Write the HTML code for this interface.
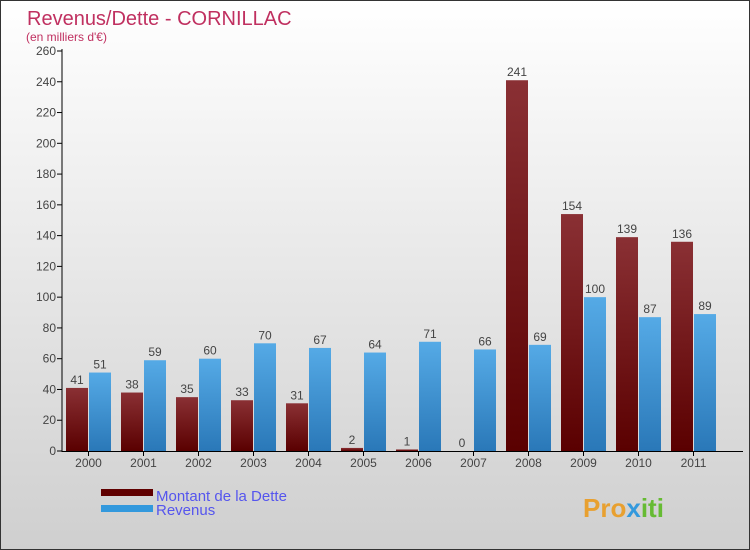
<!DOCTYPE html>
<html><head><meta charset="utf-8"><style>
body{margin:0}
#c{width:748px;height:548px;border:1px solid #333;background:linear-gradient(#ffffff,#cfcfcf);position:relative;overflow:hidden;font-family:"Liberation Sans",sans-serif}
</style></head><body>
<div id="c">
<svg width="748" height="548" id="svg">
<defs>
<linearGradient id="gd" x1="0" y1="0" x2="0" y2="1"><stop offset="0" stop-color="#8a3034"/><stop offset="1" stop-color="#5a0000"/></linearGradient>
<linearGradient id="gr" x1="0" y1="0" x2="0" y2="1"><stop offset="0" stop-color="#55aae6"/><stop offset="1" stop-color="#2a78b8"/></linearGradient>
</defs>
<text x="26" y="24" font-size="20" fill="#c03060">Revenus/Dette - CORNILLAC</text>
<text x="25" y="40" font-size="12" fill="#c03060">(en milliers d'€)</text>
<g id="plot"></g>
<rect x="100" y="488" width="52" height="7" fill="#600000"/>
<rect x="100" y="504" width="52" height="7" fill="#3399dd"/>
<text x="155" y="500" font-size="15" fill="#5555ee">Montant de la Dette</text>
<text x="155" y="514" font-size="15" fill="#5555ee">Revenus</text>
<text x="582" y="516" font-size="26" font-weight="bold" fill="#e8a030">Pro<tspan fill="#3399dd">x</tspan><tspan fill="#66bb33">iti</tspan></text>
</svg>
</div>
<script>
const categories=["2000","2001","2002","2003","2004","2005","2006","2007","2008","2009","2010","2011"];
const debt=[41,38,35,33,31,2,1,0,241,154,139,136];
const revenue=[51,59,60,70,67,64,71,66,69,100,87,89];
const ticks=[0,20,40,60,80,100,120,140,160,180,200,220,240,260];
const NS="http://www.w3.org/2000/svg";
const g=document.getElementById('plot');
const y=v=>450-v*400/260;
const gx=i=>62+i*55;
function mk(t,a){const e=document.createElementNS(NS,t);for(const k in a)e.setAttribute(k,a[k]);g.appendChild(e);return e;}
ticks.forEach(t=>{
 const l=mk('line',{x1:56,x2:61,y1:y(t),y2:y(t),stroke:'#000'});
 
 
 const tx=mk('text',{x:55,y:y(t)+4,'text-anchor':'end','font-size':12,fill:'#444'});tx.textContent=t;
 
 
});
categories.forEach((c,i)=>{
 const x0=gx(i);
 const d=mk('rect',{x:x0+3,y:y(debt[i]),width:22,height:450-y(debt[i]),fill:'url(#gd)'});
 
 
 const r=mk('rect',{x:x0+26,y:y(revenue[i]),width:22,height:450-y(revenue[i]),fill:'url(#gr)'});
 
 
 const dl=mk('text',{x:x0+14,y:y(debt[i])-4,'text-anchor':'middle','font-size':12,fill:'#444'});dl.textContent=debt[i];
 
 
 const rl=mk('text',{x:x0+37,y:y(revenue[i])-4,'text-anchor':'middle','font-size':12,fill:'#444'});rl.textContent=revenue[i];
 
 
 const tk=mk('line',{x1:x0+25.5,x2:x0+25.5,y1:450,y2:455,stroke:'#000'});
 
 
 const xl=mk('text',{x:x0+25.5,y:466,'text-anchor':'middle','font-size':12,fill:'#444'});xl.textContent=c;
 
 
});
const ya=mk('line',{x1:61,x2:61,y1:48,y2:451,stroke:'#000'});


const xa=mk('line',{x1:61,x2:742,y1:450.5,y2:450.5,stroke:'#000'});


</script>
</body></html>
